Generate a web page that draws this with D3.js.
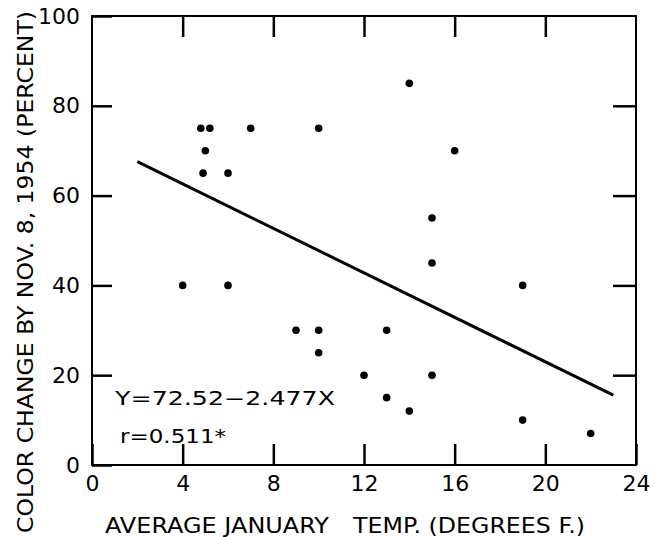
<!DOCTYPE html>
<html>
<head>
<meta charset="utf-8">
<script src="https://cdn.jsdelivr.net/npm/d3@7"></script>
<style>
  body { margin: 0; background: #fff; }
  svg { display: block; }
  text { font-family: "DejaVu Sans", sans-serif; fill: #000; }
</style>
</head>
<body>
<svg id="svg0" width="655" height="537"></svg>
<script>

// average january temp (deg F) and colour change (percent)
var temps   = [4.8, 5.2, 5, 4.9, 6, 7, 10, 14, 16, 15, 15, 4, 6, 9, 10, 10, 19, 13, 12, 15, 13, 14, 19, 22];
var changes = [75, 75, 70, 65, 65, 75, 75, 85, 70, 55, 45, 40, 40, 30, 30, 25, 40, 30, 20, 20, 15, 12, 10, 7];

var xTicks = [0, 4, 8, 12, 16, 20, 24];
var yTicks = [0, 20, 40, 60, 80, 100];

// fitted line Y = 72.52 - 2.477X, drawn from x=2 to x=23
var fitA = 72.52;
var fitB = -2.477;
var fitRange = [2, 23];

var plotLeft = 92, plotRight = 636, plotTop = 16, plotBottom = 465;

var svg0 = d3.select('#svg0');

var x = d3.scaleLinear().domain([0, 24]).range([plotLeft, plotRight]);
var y = d3.scaleLinear().domain([0, 100]).range([plotBottom, plotTop]);

// frame
svg0.append('rect')
    .attr('x', plotLeft)
    .attr('y', plotTop)
    .attr('width', plotRight - plotLeft)
    .attr('height', plotBottom - plotTop)
    .attr('fill', 'none')
    .attr('stroke', 'black')
    .attr('stroke-width', 2);

// points
svg0.append('g')
    .selectAll('circle')
    .data(temps)
    .enter()
    .append('circle')
    .attr('cx', function(d) { return x(d); })
    .attr('cy', function(d, i) { return y(changes[i]); })
    .attr('r', 3.8)
    .attr('fill', 'black');

// regression line
var line = d3.line()
    .x(function(d) { return x(d); })
    .y(function(d) { return y(fitA + fitB * d); });

svg0.append('path')
    .datum(fitRange)
    .attr('d', line)
    .attr('fill', 'none')
    .attr('stroke', 'black')
    .attr('stroke-width', 3);

// axes last: labels on bottom and left, inward ticks on all four sides
var xAxis = svg0.append('g')
    .attr('class', 'axis')
    .attr('transform', 'translate(0,' + plotBottom + ')')
    .call(d3.axisBottom(x).tickValues(xTicks).tickSizeInner(-21).tickSizeOuter(0).tickPadding(10));

var yAxis = svg0.append('g')
    .attr('class', 'axis')
    .attr('transform', 'translate(' + plotLeft + ',0)')
    .call(d3.axisLeft(y).tickValues(yTicks).tickSizeInner(-20).tickSizeOuter(0).tickPadding(12));

svg0.append('g')
    .attr('class', 'axis')
    .attr('transform', 'translate(0,' + plotTop + ')')
    .call(d3.axisTop(x).tickValues(xTicks.slice(1, -1)).tickSizeInner(-21).tickSizeOuter(0).tickFormat(''));

svg0.append('g')
    .attr('class', 'axis')
    .attr('transform', 'translate(' + plotRight + ',0)')
    .call(d3.axisRight(y).tickValues(yTicks.slice(1, -1)).tickSizeInner(-23).tickSizeOuter(0).tickFormat(''));

svg0.selectAll('.domain').remove();
svg0.selectAll('.axis .tick line')
    .style('stroke', '#000')
    .style('stroke-width', '2.5px');

xAxis.selectAll('text')
    .style('font-size', '22px')
    .attr('dy', '0.71em');

yAxis.selectAll('text')
    .style('font-size', '22px');

// equation
svg0.append('text')
    .attr('x', 115)
    .attr('y', 405)
    .attr('textLength', 220)
    .attr('lengthAdjust', 'spacingAndGlyphs')
    .style('font-size', '19px')
    .text('Y=72.52\u22122.477X');

svg0.append('text')
    .attr('x', 120)
    .attr('y', 443)
    .attr('textLength', 106)
    .attr('lengthAdjust', 'spacingAndGlyphs')
    .style('font-size', '19px')
    .text('r=0.511*');

// axis titles
svg0.append('text')
    .attr('x', 105)
    .attr('y', 533)
    .attr('textLength', 224)
    .attr('lengthAdjust', 'spacingAndGlyphs')
    .style('font-size', '22px')
    .text('AVERAGE JANUARY');

svg0.append('text')
    .attr('x', 353)
    .attr('y', 533)
    .attr('textLength', 232)
    .attr('lengthAdjust', 'spacingAndGlyphs')
    .style('font-size', '22px')
    .text('TEMP. (DEGREES F.)');

svg0.append('text')
    .attr('transform', 'translate(33,272) rotate(-90)')
    .attr('text-anchor', 'middle')
    .attr('textLength', 522)
    .attr('lengthAdjust', 'spacingAndGlyphs')
    .style('font-size', '21px')
    .text('COLOR CHANGE BY NOV. 8, 1954 (PERCENT)');

</script>
</body>
</html>
